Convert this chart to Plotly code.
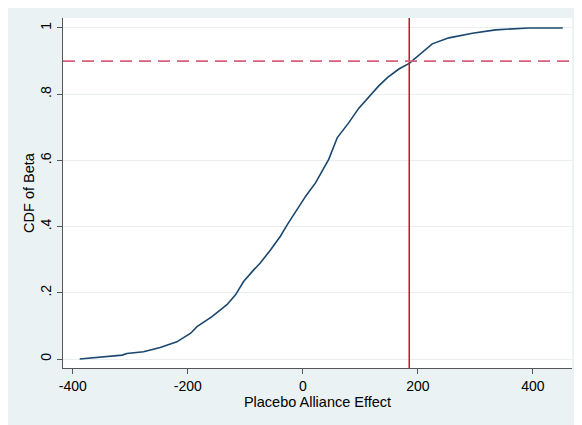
import plotly.graph_objects as go

# CDF of placebo alliance effect
beta_x = [-388, -358, -314, -306, -277, -248, -219, -195, -184, -158, -132, -117, -103,
          -85, -74, -56, -39, -27, -16, -7, 5, 22, 45, 60, 80, 97, 112, 132, 147,
          167, 185, 208, 225, 254, 295, 335, 393, 452]
cdf_y = [0.0, 0.005, 0.012, 0.017, 0.022, 0.035, 0.052, 0.078, 0.098, 0.128, 0.164, 0.194,
         0.234, 0.270, 0.290, 0.330, 0.371, 0.406, 0.436, 0.457, 0.492, 0.532, 0.603,
         0.669, 0.714, 0.757, 0.787, 0.825, 0.850, 0.876, 0.893, 0.926, 0.952, 0.970,
         0.984, 0.994, 1.0, 1.0]

vline_x = 185
hline_y = 0.9

x_ticks = [-400, -200, 0, 200, 400]
x_tick_labels = ["-400", "-200", "0", "200", "400"]
y_ticks = [0, 0.2, 0.4, 0.6, 0.8, 1]
y_tick_labels = ["0", ".2", ".4", ".6", ".8", "1"]

fig = go.Figure()
fig.add_trace(go.Scatter(x=beta_x, y=cdf_y, mode="lines",
                         line=dict(color="#1a476f", width=1.6), showlegend=False,
                         hoverinfo="skip"))

fig.add_shape(type="line", xref="x", yref="paper", x0=vline_x, x1=vline_x, y0=0, y1=1,
              line=dict(color="#c8102e", width=1.5))
fig.add_shape(type="line", xref="paper", yref="y", x0=0, x1=1, y0=hline_y, y1=hline_y,
              line=dict(color="#d6607a", width=1.8, dash="12px,7px"))

font = "Liberation Sans, Arial, sans-serif"
fig.update_layout(
    width=574, height=417,
    margin=dict(l=55, r=10, t=10, b=57, autoexpand=False),
    paper_bgcolor="#eaf2f3", plot_bgcolor="white",
    font=dict(family=font, size=14, color="#000000"),
    xaxis=dict(range=[-417, 468], tickvals=x_ticks, ticktext=x_tick_labels,
               showgrid=False, zeroline=False, showline=True, linecolor="#555555",
               linewidth=1, ticks="outside", ticklen=5, tickcolor="#555555",
               automargin=False,
               title=dict(text="Placebo Alliance Effect", font=dict(size=14.5), standoff=0)),
    yaxis=dict(range=[-0.027, 1.03], tickvals=y_ticks, ticktext=y_tick_labels,
               tickangle=-90, showgrid=True, gridcolor="#e9eff1", gridwidth=1,
               zeroline=False, showline=True, linecolor="#555555", linewidth=1,
               ticks="outside", ticklen=5, tickcolor="#555555", automargin=False,
               title=dict(text="CDF of Beta", font=dict(size=14.5), standoff=0)),
)

fig.write_html("out.html")
